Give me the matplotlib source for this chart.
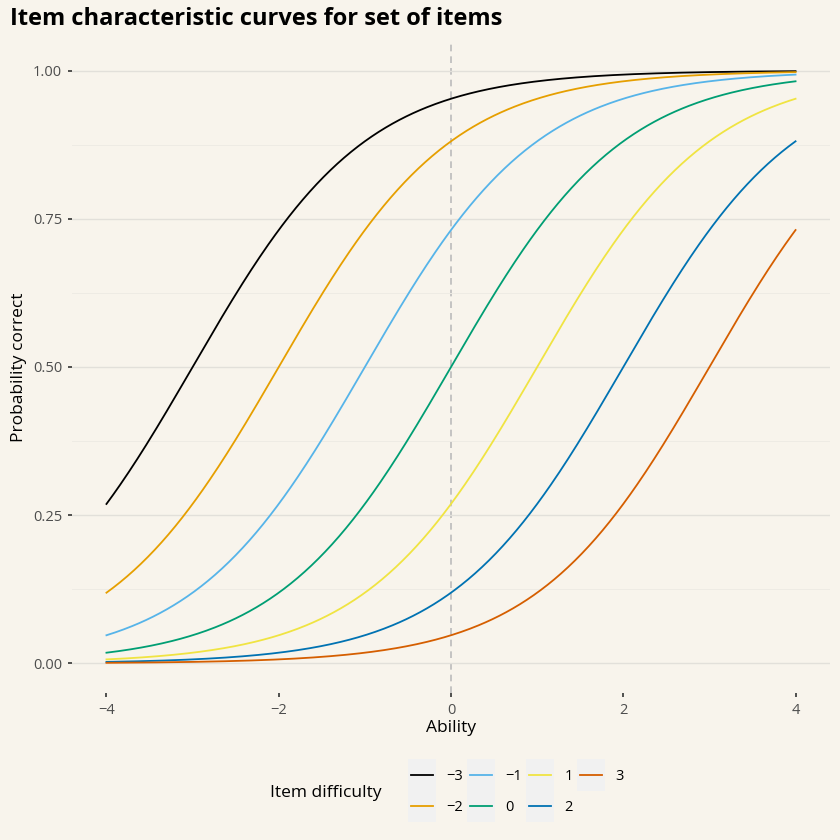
import matplotlib
matplotlib.use("Agg")
import matplotlib.pyplot as plt
import numpy as np
from matplotlib.legend_handler import HandlerLine2D
from matplotlib.patches import Rectangle

plt.rcParams["font.family"] = ["Open Sans", "DejaVu Sans"]

# item difficulties (Rasch model) and the colours used for each curve
difficulties = [-3, -2, -1, 0, 1, 2, 3]
colors = ["#000000", "#E69F00", "#56B4E9", "#009E73", "#F0E442", "#0072B2", "#D55E00"]
ability = np.linspace(-4, 4, 401)

x_ticks = [-4, -2, 0, 2, 4]
y_ticks = [0.0, 0.25, 0.5, 0.75, 1.0]
y_labels = ["0.00", "0.25", "0.50", "0.75", "1.00"]

BG = "#F8F4EC"


def icc(theta, b):
    """Probability of a correct response under the 1PL model."""
    return 1.0 / (1.0 + np.exp(-(theta - b)))


class KeyHandler(HandlerLine2D):
    """Legend key with a grey box behind the line, ggplot style."""

    def create_artists(self, legend, orig_handle, xdescent, ydescent,
                       width, height, fontsize, trans):
        rect = Rectangle((-xdescent - 2, -ydescent - 8), width + 4, height + 16,
                         facecolor="#F1F1F1", edgecolor="none", transform=trans)
        arts = super().create_artists(legend, orig_handle, xdescent, ydescent,
                                      width, height, fontsize, trans)
        return [rect] + list(arts)


fig = plt.figure(figsize=(8.4, 8.4), dpi=100, facecolor=BG)
ax = fig.add_axes([72 / 840, 147 / 840, 758 / 840, 652 / 840])
ax.set_facecolor(BG)

lines = []
for b, c in zip(difficulties, colors):
    (ln,) = ax.plot(ability, icc(ability, b), color=c, lw=1.3,
                    label=str(b).replace("-", "\u2212"))
    lines.append(ln)

ax.axvline(0, color="#BBBBBB", ls=(0, (4, 3)), lw=1.2, zorder=0)

ax.set_xlim(-4.4, 4.4)
ax.set_ylim(-0.05, 1.05)
ax.set_xticks(x_ticks)
ax.set_xticklabels([str(t).replace("-", "\u2212") for t in x_ticks])
ax.set_yticks(y_ticks)
ax.set_yticklabels(y_labels)
ax.set_yticks([0.125, 0.375, 0.625, 0.875], minor=True)
ax.grid(axis="y", which="major", color="#E2E0DA", lw=1.0)
ax.grid(axis="y", which="minor", color="#EEEBE4", lw=0.7)
ax.set_axisbelow(True)
for s in ax.spines.values():
    s.set_visible(False)
ax.tick_params(axis="both", which="major", length=3, width=1.2, color="#333333",
               labelsize=10.5, labelcolor="#4D4D4D", pad=4)
ax.tick_params(axis="y", which="minor", length=0)

ax.set_xlabel("Ability", fontsize=12.5, labelpad=2)
ax.set_ylabel("Probability correct", fontsize=12.5, labelpad=4)

fig.text(10 / 840, 1 - 19 / 840, "Item characteristic curves for set of items",
         fontsize=17, fontweight="bold", va="center", ha="left")

fig.text(270 / 840, 1 - 793 / 840, "Item difficulty", fontsize=12.5, va="center", ha="left")
fig.legend(handles=lines, ncol=4, loc="center left", bbox_to_anchor=(398 / 840, 1 - 792 / 840),
           frameon=False, fontsize=10.5, handlelength=1.5, handletextpad=0.9,
           columnspacing=0.5, labelspacing=1.1,
           handler_map={ln: KeyHandler() for ln in lines})

fig.savefig("out.png", dpi=100, facecolor=BG)
